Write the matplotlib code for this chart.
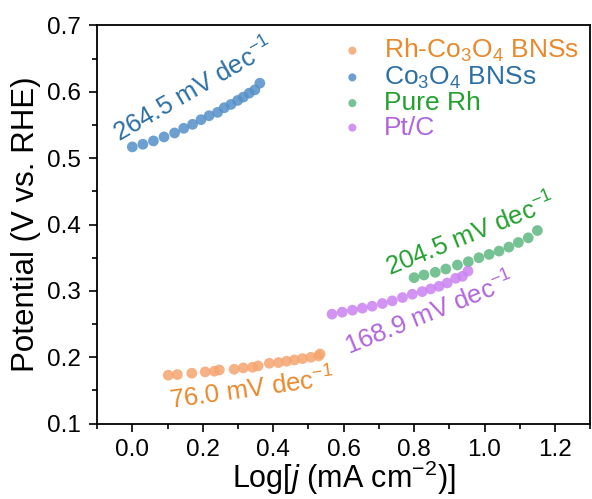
import matplotlib
matplotlib.use("Agg")
import matplotlib.pyplot as plt
from matplotlib.ticker import MultipleLocator

plt.rcParams['font.family'] = ['Liberation Sans', 'DejaVu Sans']
plt.rcParams['mathtext.fontset'] = 'custom'
plt.rcParams['mathtext.rm'] = 'Liberation Sans'
plt.rcParams['mathtext.it'] = 'Liberation Sans:italic'

# Rh-Co3O4 BNSs
rh_co_x = [0.102, 0.128, 0.169, 0.207, 0.233, 0.247, 0.289, 0.315, 0.341, 0.357,
           0.389, 0.415, 0.438, 0.460, 0.483, 0.507, 0.529, 0.533]
rh_co_y = [0.173, 0.174, 0.176, 0.178, 0.179, 0.181, 0.182, 0.184, 0.185, 0.187,
           0.191, 0.192, 0.194, 0.196, 0.198, 0.200, 0.202, 0.205]
# Co3O4 BNSs
co_x = [0.0, 0.03, 0.06, 0.09, 0.12, 0.146, 0.171, 0.195, 0.218, 0.242,
        0.261, 0.280, 0.299, 0.315, 0.332, 0.348, 0.362]
co_y = [0.517, 0.521, 0.526, 0.532, 0.538, 0.545, 0.551, 0.558, 0.564, 0.569,
        0.576, 0.581, 0.587, 0.592, 0.598, 0.603, 0.613]
# Pure Rh
rh_x = [0.800, 0.828, 0.860, 0.890, 0.923, 0.954, 0.984, 1.013, 1.041, 1.069,
        1.096, 1.124, 1.150]
rh_y = [0.320, 0.324, 0.328, 0.333, 0.339, 0.344, 0.350, 0.355, 0.360, 0.366,
        0.373, 0.380, 0.391]
# Pt/C
pt_x = [0.567, 0.596, 0.625, 0.653, 0.681, 0.710, 0.738, 0.767, 0.795, 0.823,
        0.847, 0.871, 0.894, 0.918, 0.937, 0.953]
pt_y = [0.265, 0.268, 0.271, 0.274, 0.277, 0.281, 0.285, 0.290, 0.295, 0.299,
        0.303, 0.307, 0.312, 0.319, 0.322, 0.330]

labels = ['Rh-Co$_3$O$_4$ BNSs', 'Co$_3$O$_4$ BNSs', 'Pure Rh', 'Pt/C']
slopes = ['76.0', '264.5', '204.5', '168.9']
dot_colors = ['#F5A56F', '#5490C8', '#5FB882', '#CB82F2']
text_colors = ['#E8892C', '#2B6FA6', '#23A02F', '#B065DC']

fig = plt.figure(figsize=(5.92, 4.99), dpi=100)
ax = fig.add_axes([0.164, 0.151, 0.833, 0.798])

series = [(rh_co_x, rh_co_y), (co_x, co_y), (rh_x, rh_y), (pt_x, pt_y)]
for (x, y), lab, c in zip(series, labels, dot_colors):
    ax.scatter(x, y, s=60, color=c, alpha=0.85, edgecolors='none', label=lab)

# slope annotations (centre x, centre y, angle)
ann_pos = [(0.34, 0.152, 8), (0.175, 0.602, 30), (0.962, 0.385, 22), (0.843, 0.265, 22)]
for (tx, ty, rot), sl, c in zip(ann_pos, slopes, text_colors):
    ax.text(tx, ty, sl + ' mV dec$^{-1}$', color=c, fontsize=18.5, rotation=rot,
            ha='center', va='center', rotation_mode='anchor')

ax.set_xlim(-0.1, 1.3)
ax.set_ylim(0.1, 0.7)
ax.xaxis.set_minor_locator(MultipleLocator(0.1))
ax.yaxis.set_major_locator(MultipleLocator(0.1))
ax.yaxis.set_minor_locator(MultipleLocator(0.05))
ax.set_xticks([0.0, 0.2, 0.4, 0.6, 0.8, 1.0, 1.2])
ax.tick_params(which='both', direction='out', labelsize=17.5, width=1.2)
ax.tick_params(axis='x', pad=5)
ax.tick_params(axis='y', pad=6)
ax.tick_params(which='major', length=6)
ax.tick_params(which='minor', length=3.5)
for sp in ax.spines.values():
    sp.set_linewidth(1.3)

ax.set_xlabel('Log[$\\mathit{j}$ (mA cm$^{-2}$)]', fontsize=22, labelpad=-1.5)
ax.set_ylabel('Potential (V vs. RHE)', fontsize=22.5, labelpad=4)

leg = ax.legend(loc='upper right', bbox_to_anchor=(1.02, 1.025), frameon=False,
                fontsize=19, handletextpad=0.2, labelspacing=0.02,
                markerscale=0.75, borderpad=0.3)
for t, c in zip(leg.get_texts(), text_colors):
    t.set_color(c)

fig.savefig('out.png', dpi=100)
